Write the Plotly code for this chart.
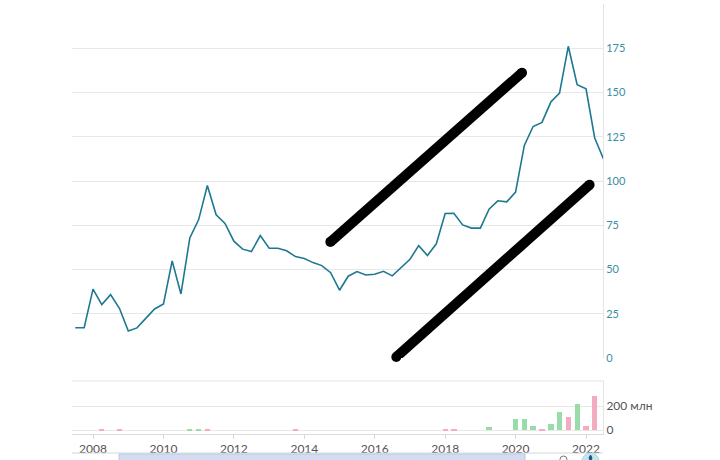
import pandas as pd
import plotly.graph_objects as go

# Quarterly dates (first day of each quarter)
dates = list(pd.date_range("2007-07-01", "2022-07-01", freq="QS"))

price = [
    17.1, 17.1,
    38.9, 30.2, 35.8, 28.1,
    15.3, 17.0, 22.4, 27.7,
    30.5, 54.9, 36.2, 67.8,
    78.2, 97.5, 80.9, 76.0,
    66.0, 61.5, 60.1, 69.2,
    62.0, 62.0, 60.6, 57.3,
    56.2, 53.9, 52.2, 48.2,
    38.3, 46.2, 48.8, 46.9,
    47.3, 49.0, 46.4, 51.3,
    55.8, 63.5, 57.9, 64.5,
    81.6, 81.8, 75.2, 73.4,
    73.4, 84.1, 88.8, 88.2,
    93.7, 120.1, 130.8, 133.1,
    144.6, 149.7, 176.1, 154.4,
    152.1, 124.3, 112.5,
]

# Volume in millions, and direction (u = green, d = pink)
volume = [
    0, 0,
    0, 3, 0, 3,
    0, 0, 0, 0,
    0, 0, 0, 3,
    5, 12, 0, 0,
    0, 0, 0, 0,
    0, 0, 0, 2,
    0, 0, 0, 0,
    0, 0, 0, 0,
    0, 0, 0, 0,
    0, 0, 0, 0,
    8, 10, 0, 0,
    0, 22, 0, 0,
    92, 92, 33, 5,
    47, 152, 106, 214,
    33, 286, 0,
]
direction = [
    "u", "u",
    "u", "d", "u", "d",
    "d", "u", "u", "u",
    "u", "u", "d", "u",
    "u", "d", "d", "d",
    "d", "d", "d", "u",
    "d", "u", "d", "d",
    "d", "d", "d", "d",
    "d", "u", "u", "d",
    "u", "u", "d", "u",
    "u", "u", "d", "u",
    "d", "d", "d", "d",
    "u", "u", "u", "d",
    "u", "u", "u", "d",
    "u", "u", "d", "u",
    "d", "d", "d",
]

# Hand-drawn black strokes (start, end) in data coordinates
stroke1_x = ["2014-09-28", "2020-03-08"]
stroke1_y = [65.6, 161.2]
stroke2_x = ["2016-08-12", "2022-02-07"]
stroke2_y = [0.6, 97.9]

price_ticks = [0, 25, 50, 75, 100, 125, 150, 175, 200]
price_ticktext = ["0", "25", "50", "75", "100", "125", "150", "175", ""]
year_ticks = [f"{y}-01-01" for y in range(2008, 2023, 2)]
year_text = [str(y) for y in range(2008, 2023, 2)]

GREEN = "#98dcaa"
PINK = "#f3abc1"
bar_colors = [GREEN if d == "u" else PINK for d in direction]

fig = go.Figure()

fig.add_trace(go.Bar(
    x=dates, y=volume, xaxis="x2", yaxis="y2",
    marker=dict(color=bar_colors, line=dict(width=0)),
    width=55 * 86400000, showlegend=False, hoverinfo="skip",
))

fig.add_trace(go.Scatter(
    x=dates, y=price, mode="lines",
    line=dict(color="#1d7891", width=1.6),
    showlegend=False,
))

for sx, sy in [(stroke1_x, stroke1_y), (stroke2_x, stroke2_y)]:
    fig.add_trace(go.Scatter(
        x=sx, y=sy, mode="lines+markers",
        line=dict(color="black", width=10),
        marker=dict(color="black", size=10),
        showlegend=False, hoverinfo="skip", cliponaxis=False,
    ))

H_TOTAL = 430.0  # plot area height in px (t=4, b=26)
def py(px):
    return (434 - px) / H_TOTAL

def pxx(px):
    return (px - 72) / 531.0

xr = ["2007-05-28", "2022-06-26"]
font_family = "Lato, 'Open Sans', sans-serif"

fig.update_layout(
    width=720, height=460,
    margin=dict(l=72, r=117, t=4, b=26),
    paper_bgcolor="white", plot_bgcolor="white",
    bargap=0,
    font=dict(family=font_family, size=11, color="#555"),
    xaxis=dict(
        domain=[0, 1], anchor="y", range=xr, type="date",
        showticklabels=False, showgrid=False, zeroline=False, showline=False,
    ),
    xaxis2=dict(
        domain=[0, 1], anchor="y2", range=xr, type="date", matches="x",
        tickvals=year_ticks, ticktext=year_text,
        ticks="outside", ticklen=4, tickcolor="#d8d8d8",
        showgrid=False, zeroline=False,
        showline=True, linecolor="#dcdcdc", linewidth=1,
        tickfont=dict(size=12, color="#555"),
    ),
    yaxis=dict(
        domain=[py(358), 1], side="right", range=[0, 200],
        tickvals=price_ticks, ticktext=price_ticktext,
        showgrid=True, gridcolor="#e8e8e8", gridwidth=1,
        zeroline=False, showline=True, linecolor="#e4e4e4",
        ticks="", tickfont=dict(size=11, color="#3a8ea4"),
    ),
    yaxis2=dict(
        domain=[0, py(381)], side="right", range=[-33, 408],
        tickvals=[0, 200], ticktext=["0", "200 млн"],
        showgrid=True, gridcolor="#e8e8e8", gridwidth=1,
        zeroline=False, showline=True, linecolor="#e4e4e4",
        ticks="", tickfont=dict(size=12, color="#555"),
    ),
    shapes=[
        # top border of the volume panel
        dict(type="line", xref="paper", yref="paper", x0=0, x1=1,
             y0=py(381), y1=py(381), line=dict(color="#e4e4e4", width=1)),
        # navigator strip
        dict(type="line", xref="paper", yref="paper", x0=0, x1=1,
             y0=py(453), y1=py(453), line=dict(color="#d6d6d6", width=1)),
        dict(type="rect", xref="paper", yref="paper",
             x0=pxx(119), x1=pxx(525),
             y0=py(462), y1=py(454), fillcolor="#d3dcf0",
             line=dict(color="#bcc8e6", width=1)),
        dict(type="circle", xref="paper", yref="paper",
             x0=pxx(560), x1=pxx(567),
             y0=py(463), y1=py(456), line=dict(color="#777", width=1)),
        dict(type="circle", xref="paper", yref="paper",
             x0=pxx(582), x1=pxx(599),
             y0=py(470), y1=py(453), fillcolor="#c6e6ef",
             line=dict(color="#a8d6e4", width=1)),
        dict(type="path", xref="paper", yref="paper",
             path=(f"M {pxx(590.5)},{py(455)} L {pxx(592)},{py(458)} "
                   f"L {pxx(590.5)},{py(461)} L {pxx(589)},{py(458)} Z"),
             fillcolor="#1d4e89", line=dict(color="#1d4e89", width=1)),
    ],
)

fig.write_html("out.html", config={"displayModeBar": False},
               post_script="document.body.style.margin='0';document.body.style.padding='0';")
